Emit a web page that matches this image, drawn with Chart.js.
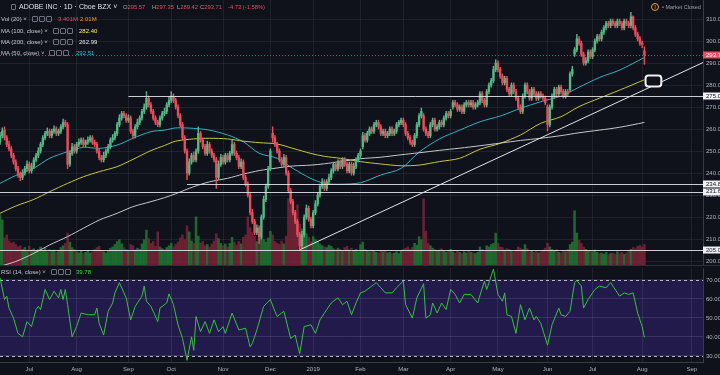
<!DOCTYPE html>
<html>
<head>
<meta charset="utf-8">
<script src="https://cdn.jsdelivr.net/npm/chart.js@4.4.1/dist/chart.umd.min.js"></script>
<style>
html, body { margin: 0; padding: 0; background: #0f111b; overflow: hidden; }
#wrap { position: relative; width: 720px; height: 375px; font-family: "Liberation Sans", Arial, sans-serif; }
canvas { position: absolute; left: 0; }
#price { top: 0; }
#rsi { top: 265px; }
.t { position: absolute; white-space: nowrap; font-size: 6px; line-height: 8px; color: #c5c8d0; }
.ic { position: absolute; width: 4px; height: 4px; border: 1px solid #6f737e; border-radius: 1px; }
#sep { position: absolute; left: 0; top: 265px; width: 720px; height: 1px; background: #2c303b; }
</style>
</head>
<body>
<div id="wrap">
  <canvas id="price" width="720" height="265"></canvas>
  <canvas id="rsi" width="720" height="110"></canvas>
  <div id="sep"></div>
  <div id="legend"></div>
</div>
<script>
// --- time axis (trading day index) ---
const lastIndex = 312;
const monthTicks = [13, 34, 57, 76, 99, 120, 139, 160, 179, 200, 221, 243, 263, 285, 307];
const monthLabels = ['Jul', 'Aug', 'Sep', 'Oct', 'Nov', 'Dec', '2019', 'Feb', 'Mar', 'Apr', 'May', 'Jun', 'Jul', 'Aug', 'Sep'];
const priceTicks = [200, 210, 220, 230, 240, 250, 260, 270, 280, 290, 300, 310];
const rsiTicks = [30, 40, 50, 60, 70];

// --- daily candles, index 0 = first visible day ---
const opens = [
  254,257,259.5,256,253,251,248,245,242,239.5,
  238,240,242,244,241,243,246,248,250,253,
  256,258,259,257,259,260,258,259,261,263,
  262,244,249,252,250,253,254,255,253,254,
  255,256,254,253,250,247,246,248,250,252,
  255,256,258,262,265,267,266,264,265,259,
  257,261,263,265,268,270,274,271,268,265,
  263,262,265,267,268,271,273,275,273,270,
  266,262,256,250,240,245,248,246,250,258,
  255,252,249,253,250,248,246,238,244,247,
  245,248,246,249,253,249,247,243,245,238,
  235,230,222,218,213,215,211,220,228,234,
  242,258,256,253,250,246,244,247,240,232,
  227,222,218,212,207,212,220,224,219,216,
  222,226,230,234,236,233,236,238,241,244,
  242,245,243,246,244,241,244,240,243,246,
  248,252,257,255,258,260,259,262,263,261,
  258,259,257,258,260,258,259,262,263,264,
  262,258,256,254,253,257,262,266,266,260,
  258,257,262,264,260,261,263,262,265,267,
  266,270,272,271,269,270,268,271,272,271,
  272,270,271,272,276,273,271,277,280,282,
  287,290,287,284,281,283,278,276,280,277,
  274,270,268,275,280,277,274,278,276,274,
  276,275,274,270,262,270,275,278,276,279,
  277,275,277,278,285,294,296,301,299,294,
  290,291,295,293,296,300,302,301,304,306,
  308,307,309,308,307,309,308,306,309,308,
  307,311,306,303,301,299,295.57
];
const highs = [
  258.5,260.5,261,257,254.5,252,249,246,243,240.5,
  241.5,243,245.5,245,244.5,247,249,251.5,254,257,
  259,260.5,260,260,261.5,261,260,262,264.5,264,
  263,250,253.5,253,254,255.5,256,256,255,256.5,
  257,257,255,254,251,248,249.5,251,253,256,
  257.5,259,263,266.5,268,268,267,266.5,266,260,
  262,264.5,266,269,271.5,277,275,272,269,266,
  264,266,268,269.5,272,274.5,277,276,274,271,
  267,263,257,251,246.5,249,249.5,251,261,259,
  256,253,254.5,254,251,249,247,245.5,248.5,248,
  249,249,250,255,254,250,248,246.5,246,239,
  236,231,223.5,219,216.5,216,221,229.5,235,243,
  251,261,257,254,251,247,248.5,248,241,233,
  228,223,219,213,213.5,221,225.5,225,220,223,
  227.5,231,235,237.5,237,237,239.5,242,245,245,
  246,246,247,247,245,245,245,244.5,247,249,
  251,258.5,258,259,261,261,263,264,264,262,
  260,260,259,261,261,260,263,264,265,265,
  263,259,257,255,258,263,267,269.5,267,261,
  259,263,265,265,262,264,264,266,268,268,
  269,273,273,272,271,271,272,273,273,273,
  273,272,273,277,277,274,278,281,283,288.5,
  291.5,291,288,285,284,284,279,281,281,278,
  275,271,276,281,281,278,279,279,277,277,
  277,276,275,271,271,276,279,279,280,280,
  278,278,278,286,288.5,297,303,302,300,295,
  292.5,296,296,297,301,303,303,305,307,309,
  309,310,310,309,310,310,309,310,310,309,
  313,311.5,307,304,302,300,297.35
];
const lows = [
  253,256,255,252,250,247,244,241,238,236.5,
  237,239,241,240,240,242,245,247,249,252,
  255,257,256,256,258,257,257,258,260,261,
  242,243,248,249,249,252,253,252,252,253,
  254,253,252,249,246,245,245,247,249,251,
  254,255,257,261,264,265,263,263,258,255.5,
  256,260,262,264,267,269,270,267,264,262,
  261,261,264,266,267,270,272,272,269,265,
  261,255,249,237,239,244,245,245,249,254,
  251,248,248,249,247,245,233,237,243,244,
  244,245,245,248,248,246,242,242,237,234,
  229,221,217,212,212,208,210,219,227,233,
  241,254,252,249,245,243,243,239,231,226,
  221,217,211,205,206,211,219,218,215,215,
  221,225,229,233,232,232,235,237,240,241,
  241,242,242,243,240,240,239,239,242,245,
  247,251,254,254,257,258,258,261,260,257,
  257,256,256,257,257,257,258,261,262,261,
  257,255,253,252,252,256,261,265,259,257,
  256,256,261,259,259,260,261,261,264,265,
  265,269,270,268,268,267,267,270,270,270,
  269,269,270,271,272,270,270,276,279,281,
  286,286,283,280,280,277,275,275,276,273,
  269,267,267,274,276,273,273,275,273,273,
  274,273,271,259,261,269,274,275,275,276,
  274,274,275,277,284,293,295,298,293,289,
  289,290,292,292,295,299,300,300,303,305,
  306,306,307,306,306,307,305,305,307,306,
  306,305,302,300,298,297,289.42
];
const closes = [
  257,259,256,253,251,248,245,242,239,238,
  240,242,244,241,243,246,248,250,253,256,
  258,259,257,259,260,258,259,261,263,262,
  244,249,252,250,253,254,255,253,254,255,
  256,254,253,250,247,246,248,250,252,255,
  256,258,262,265,267,266,264,265,259,257,
  261,263,265,268,270,274,271,268,265,263,
  262,265,267,268,271,273,275,273,270,266,
  262,256,250,240,245,248,246,250,258,255,
  252,249,253,250,248,246,238,244,247,245,
  248,246,249,253,249,247,243,245,238,235,
  230,222,218,213,215,211,220,228,234,242,
  250,256,253,250,246,244,247,240,232,227,
  222,218,212,207,212,220,224,219,216,222,
  226,230,234,236,233,236,238,241,244,242,
  245,243,246,244,241,244,240,243,246,248,
  250,257,255,258,260,259,262,263,261,258,
  259,257,258,260,258,259,262,263,264,262,
  258,256,254,253,257,262,266,268,260,258,
  257,262,264,260,261,263,262,265,267,266,
  268,272,271,269,270,268,271,272,271,272,
  270,271,272,276,273,271,277,280,282,287,
  290,287,284,281,283,278,276,280,277,274,
  270,268,275,280,277,274,278,276,274,276,
  275,274,272,262,270,275,278,276,279,277,
  275,277,276,285,287,296,301,299,294,290,
  291,295,293,296,300,302,301,304,306,308,
  307,309,308,307,309,308,306,309,308,307,
  311,306,303,301,299,298.44,293.71
];
// volume in millions
const volumes = [
  8.3,7.5,4.5,5.0,4.0,3.6,3.8,3.4,3.0,3.2,
  2.6,2.9,2.4,3.1,2.5,2.7,2.3,2.6,3.0,2.4,
  2.8,2.2,2.6,2.3,2.5,2.1,2.4,2.9,3.2,3.6,
  5.3,3.8,2.9,2.6,2.2,2.0,2.3,1.9,2.1,2.4,
  2.0,2.2,2.6,2.9,3.1,2.4,2.2,2.0,2.3,2.8,
  3.0,3.4,3.9,4.2,3.5,2.9,2.6,2.3,3.4,3.2,
  2.5,2.8,2.6,3.5,4.2,5.8,4.4,3.6,3.9,3.1,
  5.5,3.0,2.7,2.5,2.9,3.2,3.6,3.0,3.4,3.8,
  4.5,5.0,4.2,6.5,5.5,4.0,3.6,8.0,4.8,3.6,
  3.9,3.2,3.4,3.0,3.5,4.0,5.2,4.4,3.6,3.2,
  3.5,3.0,3.6,4.6,3.8,3.3,3.9,3.5,4.6,5.0,
  8.0,6.2,5.4,4.8,3.9,5.0,4.6,4.2,3.8,4.5,
  5.6,5.0,3.9,3.6,3.4,4.0,3.5,4.8,11.0,11.5,
  9.0,7.5,10.0,6.8,6.0,7.5,5.2,4.6,3.9,4.7,
  4.2,3.8,3.5,3.2,3.0,2.9,3.3,3.1,2.7,2.5,
  2.8,2.6,2.4,2.9,3.1,2.5,2.8,2.4,2.6,2.2,
  3.4,3.8,2.6,2.4,2.2,2.5,2.3,2.1,2.0,2.3,
  2.2,2.4,2.0,2.1,1.9,2.0,2.2,1.9,2.4,2.6,
  2.8,3.0,2.6,2.9,3.6,3.3,4.7,4.2,11.0,5.6,
  3.6,3.2,2.8,2.6,2.4,2.5,2.7,2.3,2.1,2.4,
  2.6,2.2,2.0,2.4,2.1,1.9,2.2,2.0,2.3,2.1,
  2.0,1.9,2.1,3.0,2.6,2.4,3.2,3.0,3.4,3.6,
  5.3,3.6,3.0,2.9,2.5,2.7,2.6,2.4,2.2,2.5,
  3.0,2.8,2.6,3.4,2.7,2.2,2.4,2.1,2.3,2.0,
  2.2,2.5,2.8,3.6,3.0,2.6,2.3,2.6,2.1,2.0,
  2.4,2.2,2.6,3.4,3.8,9.0,5.3,4.1,3.6,3.0,
  2.6,2.4,2.3,2.2,2.5,2.1,1.9,2.0,1.8,2.1,
  1.7,1.9,2.0,1.8,2.2,1.9,2.1,1.8,2.0,2.3,
  2.6,2.9,2.7,3.1,3.3,3.0,3.401
];

// --- moving averages, read at sample days ---
const maIdx = [0,7,15,22,30,37,44,52,59,67,73,78,86,93,101,108,115,123,130,138,144,151,160,169,178,186,195,204,213,222,231,240,249,257,266,275,286];
const ma50 = [235.3,238.9,242.2,246.7,249.7,251.7,251.2,252.7,255.8,258.8,259.5,260.5,260.3,259.5,257.3,254.2,249,246.7,242.1,237.5,235.3,234.9,235.6,239.1,242.1,249.5,255.5,259.5,263.3,265.9,269.4,272.4,275,279,283.4,286.8,292.51];
const ma100 = [221.7,225,228,231.5,235.3,238.3,240.6,242.9,246.2,250.2,252.5,254.5,255.5,255.8,255.5,254.5,253.8,253.2,251.2,248.9,247.6,246.7,245.2,244.1,243.3,243.6,245.2,246.7,250.8,253.5,257.3,262.6,265.6,270.2,274,277.7,282.4];
const ma200 = [197.6,199.8,203.5,207.3,211.1,214.9,218.6,221.7,224.7,227,228.8,230.6,233.8,236,237.6,239.5,241.1,242.3,243.2,243.6,244.2,245.2,246.5,247.2,248.3,249.2,250.3,251.3,252.4,253.6,254.8,255.8,257,258.3,259.5,260.8,262.99];

// --- RSI(14), read at sample days ---
const rsiIdx = [0,2,3,4,6,8,10,12,14,16,17,18,20,22,24,26,27,28,29,30,32,34,36,39,42,43,44,46,48,50,51,53,55,56,58,60,63,64,65,67,70,71,74,75,77,79,81,83,85,86,87,89,91,93,95,97,99,100,103,106,109,111,112,114,117,120,122,123,126,129,131,133,135,138,140,142,145,147,150,152,154,156,158,160,162,165,167,169,171,174,176,179,180,183,185,188,189,191,192,194,196,198,200,202,204,206,209,212,215,216,219,221,223,224,225,227,229,231,233,235,237,238,240,243,245,248,249,251,253,255,256,258,259,261,264,266,269,271,272,275,277,279,281,283,285,286];
const rsiVals = [71.2,59.7,61.5,55.2,49.9,41.9,40.1,48.1,45.5,54.4,56.1,54.4,65,59.7,64.1,60.6,65,59.7,65,57,40.1,45.5,52.6,51.7,51.7,55.2,47.2,41,53.5,57.9,63.2,68.6,63.2,60.6,49,56.1,61.5,66.8,58.8,56.1,48.1,55.2,57.9,62.7,57,46.4,39.2,27.7,40.1,33,50.8,42.8,48.1,41.9,49,42.8,45.5,41.9,52.6,43.7,44.6,34.8,36.6,43.7,56.1,59.7,53.5,50.8,53.5,39.2,41,31.2,45.5,46.4,41.9,49,54.4,57.9,60.6,57,58.8,51.7,57.9,63.2,64.1,66.8,68.6,65.9,63.2,63.2,65.9,69.5,57,49.9,60.6,68,49.9,51.7,57.9,52.6,57.9,54.4,65,62.4,57.9,62.4,62.4,57.9,69.5,65,75.7,62.4,58.8,63.2,51.7,50.8,41.9,57,49,55.2,49,50.8,47.2,35.7,46.4,55.2,51.7,50.8,53.5,68.6,69.8,66.8,55.2,59.7,65,66.8,65.9,68.6,66.8,61.5,63.2,62.4,63.2,52.6,45.5,39.78];

// --- drawings on the price pane ---
const levels = [275, 234.85, 231.6, 205.09];
const levelFrom = [57, 83, 0, 0];
const trendLine = [{ x: 133, y: 205.09 }, { x: 312, y: 290.2 }];
const lastPrice = 293.71;
const callout = { x0: 286.5, x1: 293.5, top: 284.3, bottom: 279.3 };

const UP = '#53b987', DOWN = '#eb4d5c';
const GRID = 'rgba(255,255,255,0.075)';
const FONT = '"Liberation Sans", Arial, sans-serif';

Chart.defaults.font.family = FONT;
Chart.defaults.font.size = 6;
Chart.defaults.color = '#b2b5be';

const isUp = i => closes[i] >= opens[i];
const candleColors = closes.map((c, i) => isUp(i) ? UP : DOWN);
const volColors = closes.map((c, i) => isUp(i) ? 'rgba(34,125,52,0.8)' : 'rgba(128,38,58,0.8)');
const series = vals => maIdx.map((x, i) => ({ x, y: vals[i] }));

// keep the plot area flush with the canvas edges
function fitY(s) { s.width = 17; s.paddingTop = 0; s.paddingBottom = 0; }
function fitX(h) { return s => { s.height = h; s.paddingLeft = 0; s.paddingRight = 0; }; }

function axisBox(ctx, area, py, text, bg, fg) {
    ctx.fillStyle = bg;
    ctx.fillRect(area.right, Math.round(py) - 3.5, 720 - area.right, 7);
    ctx.fillStyle = fg;
    ctx.font = '6px ' + FONT;
    ctx.textBaseline = 'middle';
    ctx.fillText(text, area.right + 3, py + 0.3);
}

const priceMarks = {
    id: 'priceMarks',
    afterDatasetsDraw(chart) {
        const { ctx, chartArea: a, scales: { x, y } } = chart;
        ctx.save();
        // horizontal levels
        ctx.strokeStyle = 'rgba(225,226,232,0.9)';
        ctx.lineWidth = 1;
        levels.forEach((v, k) => {
            const py = Math.round(y.getPixelForValue(v)) + 0.5;
            ctx.beginPath();
            ctx.moveTo(x.getPixelForValue(levelFrom[k]), py);
            ctx.lineTo(a.right, py);
            ctx.stroke();
        });
        // last price dotted line
        const lp = Math.round(y.getPixelForValue(lastPrice)) + 0.5;
        ctx.strokeStyle = 'rgba(235,77,92,0.75)';
        ctx.setLineDash([1, 2]);
        ctx.beginPath();
        ctx.moveTo(a.left, lp);
        ctx.lineTo(a.right, lp);
        ctx.stroke();
        ctx.setLineDash([]);
        // callout rectangle
        const cx0 = x.getPixelForValue(callout.x0), cx1 = x.getPixelForValue(callout.x1);
        const cy0 = y.getPixelForValue(callout.top), cy1 = y.getPixelForValue(callout.bottom);
        ctx.strokeStyle = '#f2f2f5';
        ctx.lineWidth = 2;
        ctx.beginPath();
        ctx.roundRect(cx0, cy0, cx1 - cx0, cy1 - cy0, 3);
        ctx.fillStyle = '#0f111b';
        ctx.fill();
        ctx.stroke();
        ctx.restore();
    },
    afterDraw(chart) {
        const { ctx, chartArea: a, scales: { y } } = chart;
        ctx.save();
        levels.forEach(v => axisBox(ctx, a, y.getPixelForValue(v), v.toFixed(2), '#f0f0f3', '#131722'));
        axisBox(ctx, a, y.getPixelForValue(lastPrice), lastPrice.toFixed(2), '#eb4d5c', '#ffffff');
        ctx.restore();
    }
};

new Chart(document.getElementById('price'), {
    type: 'bar',
    data: {
        datasets: [
            {
                type: 'bar', data: volumes.map((v, i) => ({ x: i, y: v })), yAxisID: 'yv',
                backgroundColor: volColors, barThickness: 1.9, grouped: false, order: 10
            },
            {
                type: 'line', data: series(ma200), borderColor: '#c8c8cc', borderWidth: 1,
                pointRadius: 0, tension: 0.3, order: 6
            },
            {
                type: 'line', data: series(ma100), borderColor: '#c9c936', borderWidth: 1,
                pointRadius: 0, tension: 0.3, order: 6
            },
            {
                type: 'line', data: series(ma50), borderColor: '#2fb3c4', borderWidth: 1,
                pointRadius: 0, tension: 0.3, order: 6
            },
            {
                type: 'line', data: trendLine, borderColor: '#e4e4ea', borderWidth: 1,
                pointRadius: 0, order: 5
            },
            {
                type: 'bar', data: lows.map((l, i) => ({ x: i, y: [l, highs[i]] })),
                backgroundColor: candleColors, barThickness: 0.8, grouped: false, order: 2
            },
            {
                type: 'bar', data: opens.map((o, i) => ({ x: i, y: [o, closes[i]] })),
                backgroundColor: candleColors, barThickness: 1.7, grouped: false,
                minBarLength: 1, order: 1
            }
        ]
    },
    options: {
        responsive: false,
        animation: false,
        devicePixelRatio: 1,
        layout: { padding: 0 },
        plugins: { legend: { display: false }, tooltip: { enabled: false } },
        scales: {
            x: {
                type: 'linear', min: 0, max: lastIndex, offset: false,
                afterBuildTicks: s => { s.ticks = monthTicks.map(v => ({ value: v })); },
                afterFit: fitX(0),
                ticks: { display: false },
                grid: { color: GRID, drawTicks: false, offset: false },
                border: { display: false }
            },
            y: {
                position: 'right', min: 198.2, max: 318.64,
                afterBuildTicks: s => { s.ticks = priceTicks.map(v => ({ value: v })); },
                afterFit: fitY,
                ticks: { padding: 3, callback: v => v.toFixed(2) },
                grid: { color: GRID, drawTicks: false },
                border: { color: '#383c47' }
            },
            yv: { display: false, min: 0, max: 44 }
        }
    },
    plugins: [priceMarks]
});

const rsiMarks = {
    id: 'rsiMarks',
    beforeDraw(chart) {
        const { ctx, chartArea: a, scales: { y } } = chart;
        const t = y.getPixelForValue(70), b = y.getPixelForValue(30);
        ctx.save();
        ctx.fillStyle = '#231a4c';
        ctx.fillRect(a.left, t, a.right - a.left, b - t);
        ctx.restore();
    },
    beforeDatasetsDraw(chart) {
        const { ctx, chartArea: a, scales: { y } } = chart;
        ctx.save();
        ctx.strokeStyle = '#b9b6cf';
        ctx.lineWidth = 1;
        ctx.setLineDash([3, 3]);
        [70, 30].forEach(v => {
            const py = Math.round(y.getPixelForValue(v)) + 0.5;
            ctx.beginPath();
            ctx.moveTo(a.left, py);
            ctx.lineTo(a.right, py);
            ctx.stroke();
        });
        ctx.restore();
    }
};

new Chart(document.getElementById('rsi'), {
    type: 'line',
    data: {
        datasets: [{
            data: rsiIdx.map((x, i) => ({ x, y: rsiVals[i] })),
            borderColor: '#36c23a', borderWidth: 1, pointRadius: 0, tension: 0
        }]
    },
    options: {
        responsive: false,
        animation: false,
        devicePixelRatio: 1,
        layout: { padding: { top: 3 } },
        plugins: { legend: { display: false }, tooltip: { enabled: false } },
        scales: {
            x: {
                type: 'linear', min: 0, max: lastIndex, offset: false,
                afterBuildTicks: s => { s.ticks = monthTicks.map(v => ({ value: v })); },
                afterFit: fitX(13),
                ticks: { padding: 4, maxRotation: 0, autoSkip: false, callback: v => monthLabels[monthTicks.indexOf(v)] },
                grid: { color: GRID, drawTicks: false },
                border: { color: '#383c47' }
            },
            y: {
                position: 'right', min: 26.84, max: 76.3,
                afterBuildTicks: s => { s.ticks = rsiTicks.map(v => ({ value: v })); },
                afterFit: fitY,
                ticks: { padding: 3, callback: v => v.toFixed(2) },
                grid: { color: 'rgba(255,255,255,0.1)', drawTicks: false },
                border: { color: '#383c47' }
            }
        }
    },
    plugins: [rsiMarks]
});

// --- legend text ---
const legendRows = [
    { top: 15, label: 'Vol (20) ˅', icons: 32, values: [['3.401M', 58, '#eb4d5c'], ['2.01M', 80, '#f09a3e']] },
    { top: 27, label: 'MA (100, close) ˅', icons: 53, values: [['282.40', 79, '#ffee3a']] },
    { top: 38, label: 'MA (200, close) ˅', icons: 53, values: [['262.99', 79, '#e8e8ec']] },
    { top: 49, label: 'MA (50, close) ˅', icons: 49, values: [['292.51', 76, '#2cc6d8']] },
    { top: 268, label: 'RSI (14, close) ˅', icons: 51, values: [['39.78', 76, '#3fdc3f']] }
];
const ohlc = [['O', '295.57', 123], ['H', '297.35', 152], ['L', '289.42', 177], ['C', '293.71', 200]];

let html = '';
html += '<span class="ic" style="left:11px;top:4px;width:3px;height:4px"></span>';
html += '<span class="t" style="left:19px;top:2px;font-size:7px;line-height:10px;color:#dfe1e7">ADOBE INC · 1D · Cboe BZX ˅</span>';
ohlc.forEach(([k, v, l]) => {
    html += `<span class="t" style="left:${l}px;top:3px;font-size:5.8px;color:#eb4d5c"><span style="color:#a3a6af">${k}</span>${v}</span>`;
});
html += '<span class="t" style="left:228px;top:3px;font-size:5.8px;color:#eb4d5c">-4.73 (-1.58%)</span>';
legendRows.forEach(r => {
    html += `<span class="t" style="left:1px;top:${r.top}px">${r.label}</span>`;
    for (let k = 0; k < 3; k++) {
        html += `<span class="ic" style="left:${r.icons + k * 7}px;top:${r.top + 1}px"></span>`;
    }
    r.values.forEach(([v, l, c]) => {
        html += `<span class="t" style="left:${l}px;top:${r.top}px;color:${c}">${v}</span>`;
    });
});
html += '<span style="position:absolute;left:651px;top:3px;width:6px;height:6px;border:1px solid #f0a030;border-radius:50%;color:#f0a030;font-size:5px;line-height:6px;text-align:center;font-weight:bold">!</span>';
html += '<span class="t" style="left:662px;top:3px;font-size:5.5px;color:#9aa0aa">• Market Closed</span>';
document.getElementById('legend').innerHTML = html;
</script>
</body>
</html>
